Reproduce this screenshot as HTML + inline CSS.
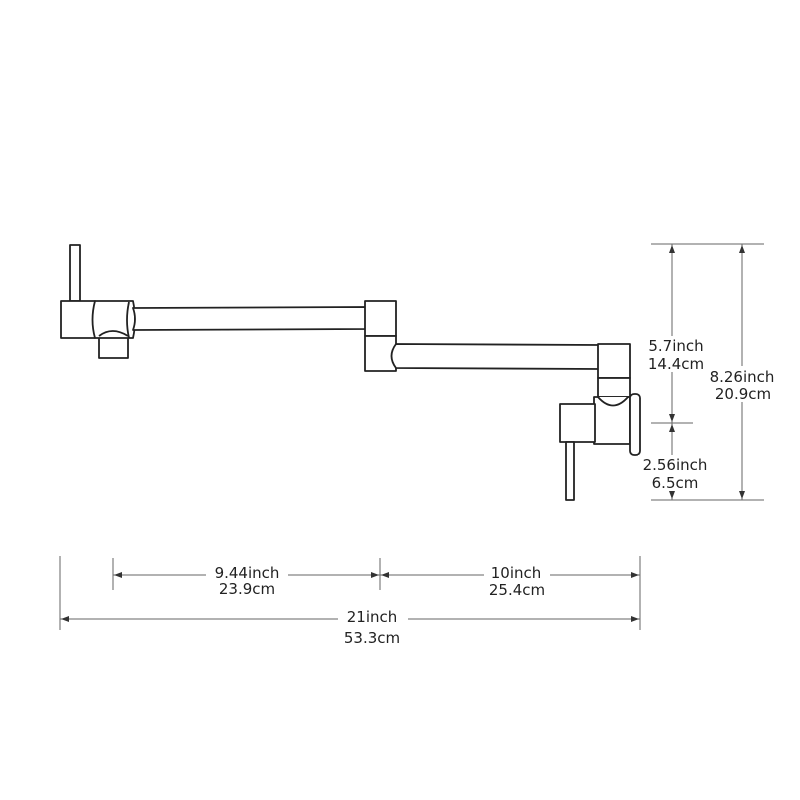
<!DOCTYPE html>
<html><head><style>
html,body{margin:0;padding:0;background:#fff;}
svg{display:block;}
text{font-family:"DejaVu Sans","Liberation Sans",sans-serif;font-size:15px;fill:#222;}
</style></head><body>
<svg width="800" height="800" viewBox="0 0 800 800">
<g fill="#fff" stroke="#222" stroke-width="1.8" stroke-linejoin="round">
  <rect x="70" y="245" width="10" height="56"/>
  <rect x="61" y="301" width="34" height="37"/>
  <path d="M99 336 L128 336 L128 358 L99 358 Z"/>
  <path d="M95 301 L133 301 Q137 320 133 338 L95 338 Q90 320 95 301 Z"/>
  <path d="M99 336 Q112 326 128 336"/>
  <path d="M129 302 Q125 320 129 338"/>
  <path d="M133 308 L365 307 Q369 318 365 329 L133 330 Q137 319 133 308 Z"/>
  <rect x="365" y="301" width="31" height="35"/>
  <rect x="365" y="336" width="31" height="35"/>
  <path d="M396 344 L600 345 Q605 357 600 369 L396 368 Q387 356 396 344 Z"/>
  <rect x="598" y="344" width="32" height="34"/>
  <rect x="598" y="378" width="32" height="19"/>
  <rect x="594" y="397" width="36" height="47"/>
  <path d="M598 397 Q613 414 628 397"/>
  <rect x="560" y="404" width="35" height="38"/>
  <rect x="566" y="442" width="8" height="58"/>
  <rect x="630" y="394" width="10" height="61" rx="4"/>
</g>
<g stroke="#666" stroke-width="1" fill="none">
  <line x1="651" y1="244" x2="764" y2="244"/>
  <line x1="651" y1="423" x2="693" y2="423"/>
  <line x1="651" y1="500" x2="764" y2="500"/>
  <line x1="672" y1="244" x2="672" y2="500"/>
  <line x1="742" y1="244" x2="742" y2="500"/>
  <line x1="60" y1="556" x2="60" y2="630"/>
  <line x1="640" y1="556" x2="640" y2="630"/>
  <line x1="113" y1="558" x2="113" y2="590"/>
  <line x1="380" y1="558" x2="380" y2="590"/>
  <line x1="113" y1="575" x2="640" y2="575"/>
  <line x1="60" y1="619" x2="640" y2="619"/>
</g>
<rect x="646" y="336" width="60" height="36" fill="#fff"/>
<rect x="708" y="366" width="68" height="36" fill="#fff"/>
<rect x="638" y="455" width="74" height="36" fill="#fff"/>
<rect x="206" y="565" width="82" height="14" fill="#fff"/>
<rect x="484" y="565" width="66" height="14" fill="#fff"/>
<rect x="338" y="609" width="70" height="14" fill="#fff"/>
<g fill="#333">
  <path d="M672 245 l-3 8 h6 z M742 245 l-3 8 h6 z M672 422 l-3 -8 h6 z M672 424 l-3 8 h6 z M672 499 l-3 -8 h6 z M742 499 l-3 -8 h6 z"/>
  <path d="M114 575 l8 -3 v6 z M379 575 l-8 -3 v6 z M381 575 l8 -3 v6 z M639 575 l-8 -3 v6 z M61 619 l8 -3 v6 z M639 619 l-8 -3 v6 z"/>
</g>
<g text-anchor="middle">
  <text x="676" y="351">5.7inch</text>
  <text x="676" y="369">14.4cm</text>
  <text x="742" y="382">8.26inch</text>
  <text x="743" y="399">20.9cm</text>
  <text x="675" y="470">2.56inch</text>
  <text x="675" y="488">6.5cm</text>
  <text x="247" y="578">9.44inch</text>
  <text x="247" y="594">23.9cm</text>
  <text x="516" y="578">10inch</text>
  <text x="517" y="595">25.4cm</text>
  <text x="372" y="622">21inch</text>
  <text x="372" y="643">53.3cm</text>
</g>
</svg>
</body></html>
